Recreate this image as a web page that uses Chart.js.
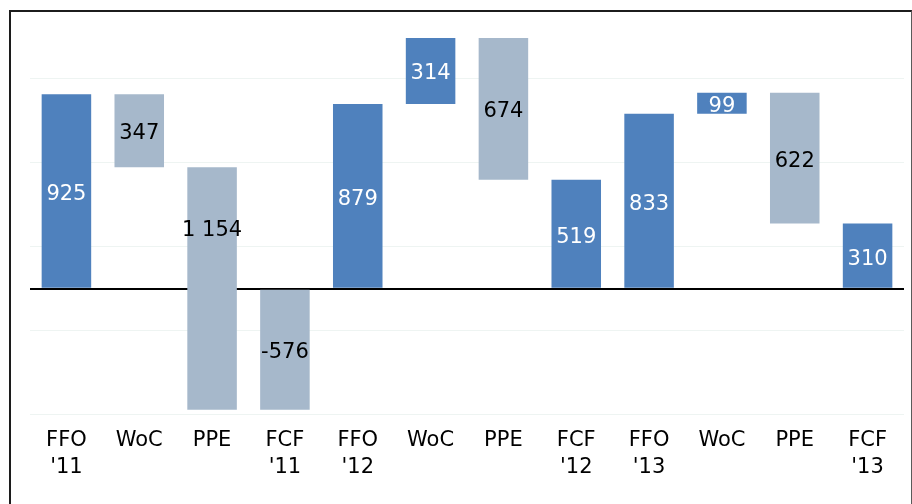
<!DOCTYPE html>
<html>
<head>
<meta charset="utf-8">
<script src="https://cdn.jsdelivr.net/npm/chart.js@4/dist/chart.umd.min.js"></script>
<style>
  html, body { margin: 0; padding: 0; background: #fff; }
  #wrap { position: relative; width: 912px; height: 504px; overflow: hidden; }
  #frame { position: absolute; left: 9px; top: 10px; width: 900px; height: 520px;
           border-top: 2px solid #1c1c1c; border-left: 2px solid #1c1c1c; border-right: 1px solid #5a5a5a;
           pointer-events: none; }
  canvas { position: absolute; left: 0; top: 0; }
</style>
</head>
<body>
<div id="wrap">
  <canvas id="c" width="912" height="504"></canvas>
  <div id="frame"></div>
</div>
<script>
// Categories (two-line labels)
const categories = [["FFO", "'11"], "WoC", "PPE", ["FCF", "'11"],
                    ["FFO", "'12"], "WoC", "PPE", ["FCF", "'12"],
                    ["FFO", "'13"], "WoC", "PPE", ["FCF", "'13"]];
// Bar start and end values (waterfall)
const barStarts = [0, 925, 578, 0,    0, 879, 1193, 0,   0, 833, 932, 0];
const barEnds   = [925, 578, -576, -576, 879, 1193, 519, 519, 833, 932, 310, 310];
// Displayed values
const valueLabels = [925, 347, 1154, -576, 879, 314, 674, 519, 833, 99, 622, 310];

const DARK = '#4F81BD';
const LIGHT = '#A6B8CB';
const FONT = '"DejaVu Sans", Verdana, sans-serif';

const fmt = v => {
  const s = Math.abs(v).toString().replace(/\B(?=(\d{3})+(?!\d))/g, ' ');
  return (v < 0 ? '-' : '') + s;
};

const isUp = barStarts.map((s, i) => barEnds[i] > s);

const labelPlugin = {
  id: 'valueLabels',
  afterDatasetsDraw(chart) {
    const ctx = chart.ctx;
    const yScale = chart.scales.y;
    const meta = chart.getDatasetMeta(0);
    ctx.save();
    ctx.font = '21px ' + FONT;
    ctx.textAlign = 'center';
    ctx.textBaseline = 'middle';
    meta.data.forEach((el, i) => {
      const a = barStarts[i], b = barEnds[i];
      let anchor;
      if (Math.min(a, b) < 0 && Math.max(a, b) > 0) anchor = Math.max(a, b) / 2;
      else anchor = (a + b) / 2;
      const y = yScale.getPixelForValue(anchor);
      ctx.fillStyle = isUp[i] ? '#ffffff' : '#000000';
      ctx.fillText(fmt(valueLabels[i]), el.x, y + 3);
    });
    ctx.restore();
  }
};

new Chart(document.getElementById('c'), {
  type: 'bar',
  data: {
    labels: categories,
    datasets: [{
      data: barStarts.map((s, i) => [s, barEnds[i]]),
      backgroundColor: isUp.map(u => u ? DARK : LIGHT),
      borderWidth: 0,
      barPercentage: 0.68,
      categoryPercentage: 1.0
    }]
  },
  options: {
    responsive: false,
    animation: false,
    devicePixelRatio: 1,
    layout: { padding: { left: 30, right: 8, top: 26, bottom: 11 } },
    plugins: { legend: { display: false }, tooltip: { enabled: false } },
    scales: {
      x: {
        grid: { display: false, drawTicks: false },
        border: { display: false },
        ticks: {
          color: '#000',
          font: { family: FONT, size: 21, lineHeight: 1.29 },
          padding: 12,
          maxRotation: 0,
          autoSkip: false
        }
      },
      y: {
        min: -600,
        max: 1250,
        border: { display: false },
        ticks: { display: false, stepSize: 200 },
        grid: {
          drawTicks: false,
          color: c => {
            const v = c.tick.value;
            if (v === 0) return '#000000';
            if (((v - 200) % 400 + 400) % 400 === 0) return '#eef4f2';
            return 'rgba(0,0,0,0)';
          },
          lineWidth: c => c.tick.value === 0 ? 2 : 1
        }
      }
    }
  },
  plugins: [labelPlugin]
});
</script>
</body>
</html>
